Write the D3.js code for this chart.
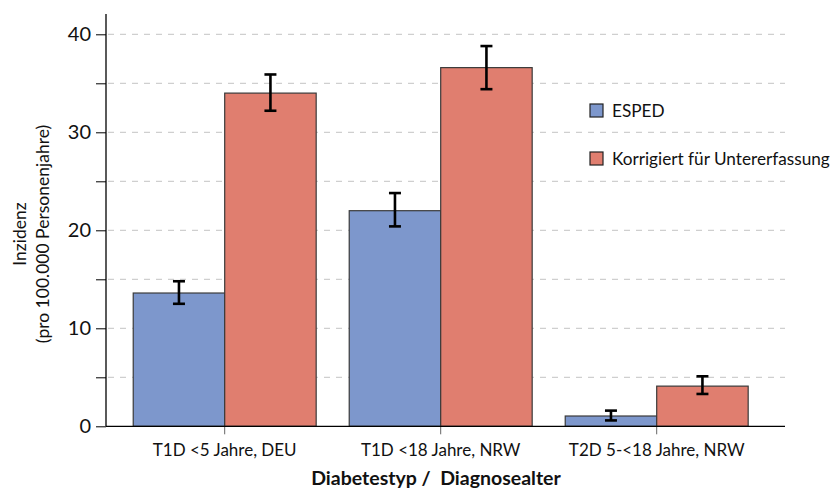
<!DOCTYPE html>
<html><head><meta charset="utf-8">
<script src="https://cdn.jsdelivr.net/npm/d3@7/dist/d3.min.js"></script>
<style>body{margin:0;background:#fff;} svg{display:block;font-family:Lato,"Open Sans",sans-serif;}</style>
</head><body>
<svg id="chart" width="833" height="488"></svg>
<script>
const categories = ["T1D <5 Jahre, DEU", "T1D <18 Jahre, NRW", "T2D 5-<18 Jahre, NRW"];
const seriesNames = ["ESPED", "Korrigiert für Untererfassung"];
const esped = [13.6, 22.0, 1.05];
const espedLow = [12.5, 20.4, 0.6];
const espedHigh = [14.8, 23.8, 1.6];
const korr = [34.0, 36.6, 4.1];
const korrLow = [32.2, 34.4, 3.3];
const korrHigh = [35.9, 38.8, 5.1];
const yTicks = [0, 10, 20, 30, 40];
const yMinor = [5, 15, 25, 35];
const yTitle = ["Inzidenz", "(pro 100.000 Personenjahre)"];
const xTitle = "Diabetestyp /  Diagnosealter";

const colors = ["#7d97cc", "#e07e6f"];
const svg = d3.select("#chart");
const x0 = 106, xEnd = 785, yTop = 14;
const y = d3.scaleLinear().domain([0, 40]).range([426.3, 34.3]);
const x = d3.scaleBand().domain(categories).range([116.7, 764.7]).paddingInner(0.153).paddingOuter(0.0765);
const xs = d3.scaleBand().domain([0, 1]).range([0, x.bandwidth()]);

// grid
const g = svg.append("g");
g.selectAll("line.grid").data(yTicks.concat(yMinor).filter(d => d > 0)).join("line")
  .attr("x1", x0 + 2).attr("x2", xEnd).attr("y1", d => y(d)).attr("y2", d => y(d))
  .attr("stroke", "#c4c4c4").attr("stroke-width", 1).attr("stroke-dasharray", "6,6");

const series = [
  {vals: esped, lo: espedLow, hi: espedHigh},
  {vals: korr, lo: korrLow, hi: korrHigh}
];
series.forEach((s, si) => {
  g.selectAll("rect.s" + si).data(categories).join("rect")
    .attr("x", (c) => x(c) + xs(si)).attr("width", xs.bandwidth())
    .attr("y", (c, i) => y(s.vals[i])).attr("height", (c, i) => y(0) - y(s.vals[i]))
    .attr("fill", colors[si]).attr("stroke", "#3a3a3a").attr("stroke-width", 1.2);
});
series.forEach((s, si) => {
  categories.forEach((c, i) => {
    const cx = x(c) + xs(si) + xs.bandwidth() / 2;
    const eg = g.append("g").attr("stroke", "#000").attr("stroke-width", 2.6);
    eg.append("line").attr("x1", cx).attr("x2", cx).attr("y1", y(s.hi[i])).attr("y2", y(s.lo[i]));
    eg.append("line").attr("x1", cx - 6).attr("x2", cx + 6).attr("y1", y(s.hi[i])).attr("y2", y(s.hi[i]));
    eg.append("line").attr("x1", cx - 6).attr("x2", cx + 6).attr("y1", y(s.lo[i])).attr("y2", y(s.lo[i]));
  });
});

// y axis
const yAxis = svg.append("g").attr("transform", `translate(${x0},0)`)
  .call(d3.axisLeft(y).tickValues(yTicks.concat(yMinor)).tickSize(10).tickFormat(d => yTicks.includes(d) ? d : ""));
yAxis.select(".domain").remove();
yAxis.selectAll(".tick line").attr("stroke", "#000").attr("stroke-width", 1);
yAxis.selectAll(".tick text").attr("font-size", 20).attr("font-family", "Lato").attr("fill", "#111").attr("x", -15);
svg.append("line").attr("x1", x0).attr("x2", x0).attr("y1", yTop).attr("y2", y(0)).attr("stroke", "#000").attr("stroke-width", 1.3);

// x axis
const xAxis = svg.append("g").attr("transform", `translate(0,${y(0)})`)
  .call(d3.axisBottom(x).tickSize(8).tickPadding(10));
xAxis.select(".domain").remove();
xAxis.selectAll(".tick line").attr("stroke", "#666").attr("stroke-width", 1);
xAxis.selectAll(".tick text").attr("font-size", 17).attr("font-family", "Lato").attr("fill", "#111");
svg.append("line").attr("x1", x0).attr("x2", xEnd).attr("y1", y(0)).attr("y2", y(0)).attr("stroke", "#000").attr("stroke-width", 1.3);

// titles
svg.append("text").attr("x", 436).attr("y", 485).attr("text-anchor", "middle").attr("xml:space", "preserve")
  .style("white-space", "pre")
  .attr("font-size", 19.5).attr("font-weight", "bold").attr("fill", "#111").text(xTitle);
const yt = svg.append("text").attr("transform", "translate(0,234) rotate(-90)").attr("text-anchor", "middle")
  .attr("font-size", 17.5).attr("fill", "#111");
yt.append("tspan").attr("x", 0).attr("y", 26).text(yTitle[0]);
yt.append("tspan").attr("x", 0).attr("y", 49).text(yTitle[1]);

// legend
const leg = svg.append("g");
seriesNames.forEach((n, i) => {
  const ly = 110.5 + i * 48;
  leg.append("rect").attr("x", 590).attr("y", ly - 6.5).attr("width", 13).attr("height", 13)
    .attr("fill", colors[i]).attr("stroke", "#222").attr("stroke-width", 1.2);
  leg.append("text").attr("x", 612).attr("y", ly + 6.5).attr("font-size", 17.2).attr("fill", "#111").text(n);
});
</script>
</body></html>
